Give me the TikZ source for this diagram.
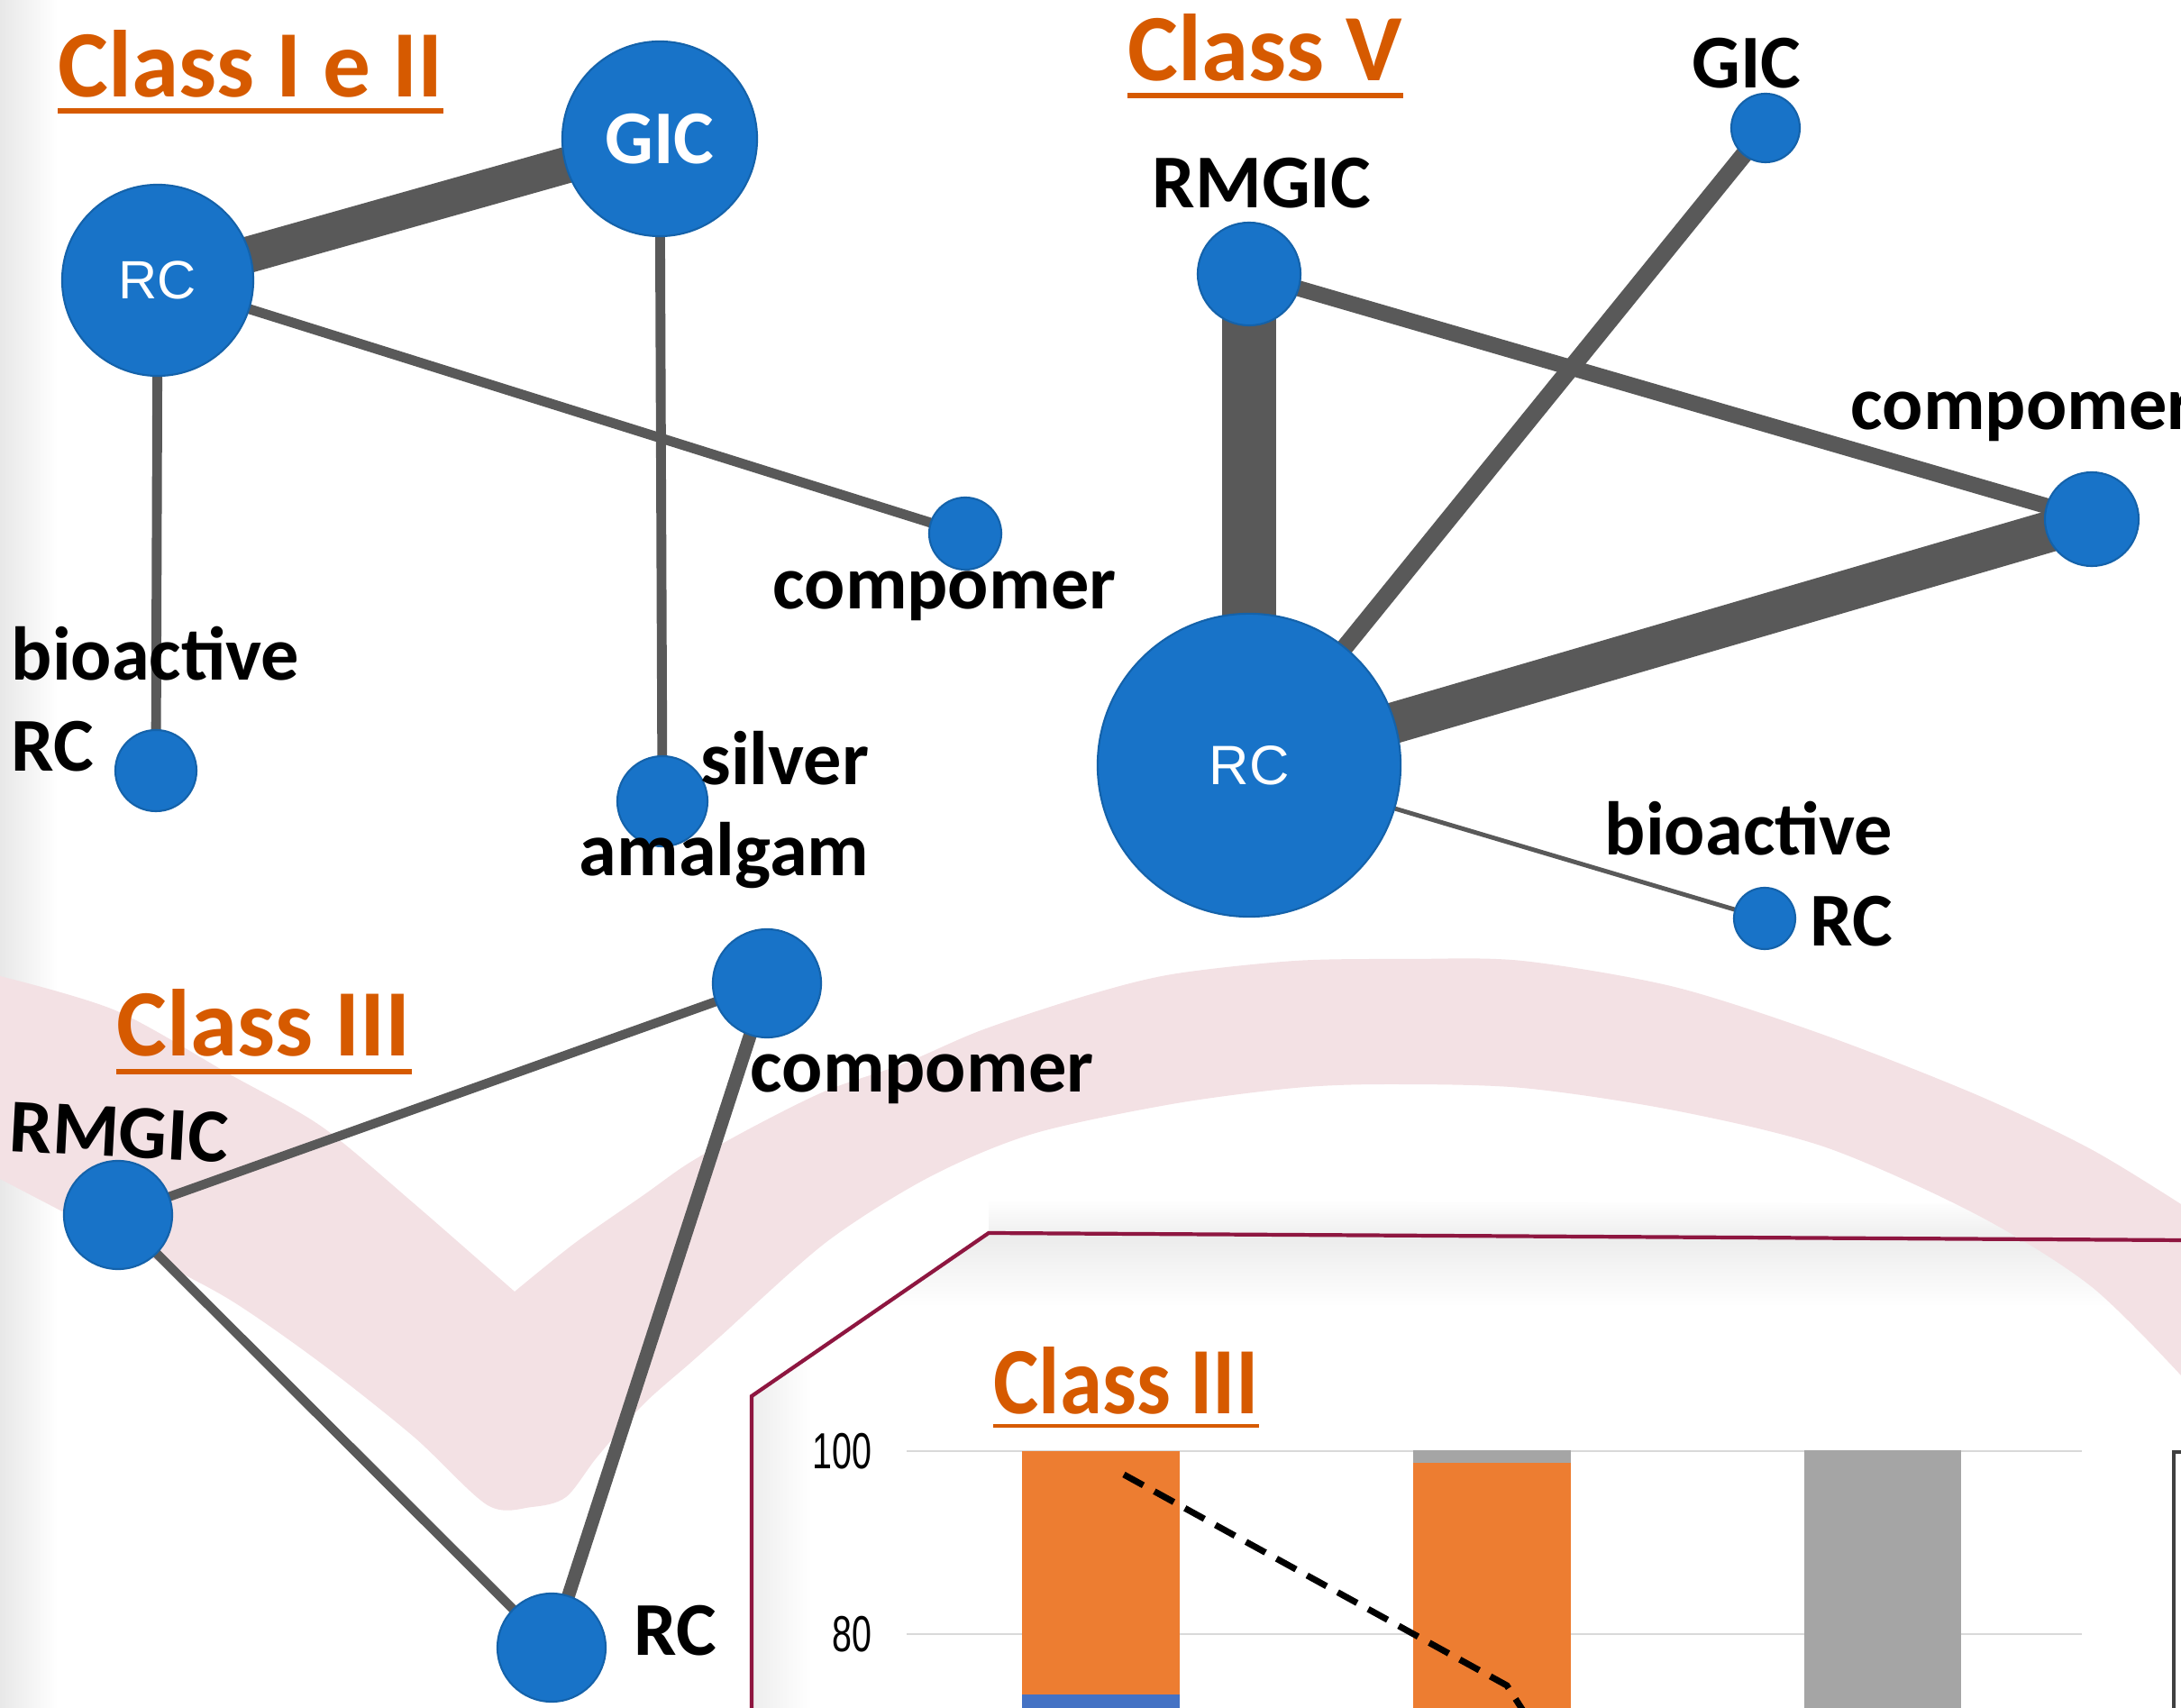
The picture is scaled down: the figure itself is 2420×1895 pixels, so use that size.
\documentclass[tikz,border=0pt]{standalone}
\usepackage{fontspec}
\setmainfont{Carlito}
\newfontfamily\arialfont{Liberation Sans}
\newfontfamily\narrowfont[FakeStretch=0.7]{Liberation Sans}
\newfontfamily\insetfont[FakeStretch=0.9]{Carlito}
\usepackage{tikz}
\pgfdeclarelayer{paper}
\pgfdeclarelayer{links}
\pgfsetlayers{paper,links,main}

\definecolor{nodeblue}{RGB}{24,115,200}
\definecolor{edgegray}{RGB}{89,89,89}
\definecolor{titleorange}{RGB}{214,90,0}
\definecolor{pinkband}{RGB}{243,225,228}
\definecolor{framered}{RGB}{142,22,64}
\definecolor{barorange}{RGB}{237,125,49}
\definecolor{barblue}{RGB}{68,114,196}
\definecolor{bargray}{RGB}{165,165,165}
\definecolor{gridgray}{RGB}{217,217,217}

\begin{document}
\begin{tikzpicture}[x=0.01cm, y=-0.01cm,
  drug/.style={circle, fill=nodeblue, draw=nodeblue!85!black, line width=0.6pt, inner sep=0pt, minimum size=#1},
  link/.style={draw=edgegray, line width=#1},
  classtitle/.style={font=\bfseries\fontsize{30}{30}\selectfont, text=titleorange, inner sep=0pt, anchor=base west},
  titleline/.style={draw=titleorange, line width=1.7pt},
  lbl/.style={font=\bfseries\fontsize{24}{29}\selectfont, inner sep=0pt},
  tick/.style={font=\narrowfont\fontsize{16}{16}\selectfont, inner sep=0pt, anchor=east}]
\useasboundingbox (0,0) rectangle (2420,1895);

\begin{pgfonlayer}{paper}
\shade[left color=black!9, right color=white] (0,0) rectangle (64,1895);
\fill[white] (834,1900) -- (834,1549) -- (1097,1368) -- (2425,1376) -- (2425,1900) -- cycle;
\shade[top color=white, bottom color=black!7] (1097,1330) -- (2425,1337) -- (2425,1376) -- (1097,1368) -- cycle;
\begin{scope}
\clip (834,1900) -- (834,1549) -- (1097,1368) -- (2425,1376) -- (2425,1900) -- cycle;
\shade[top color=black!8, bottom color=white] (834,1368) rectangle (2425,1450);
\shade[left color=black!7, right color=white] (834,1450) rectangle (900,1900);
\end{scope}
\fill[pinkband] plot[smooth] coordinates {(0,1083) (128,1121) (255,1192) (357,1250) (459,1335) (571,1433)}
  -- plot[smooth] coordinates {(571,1433) (638,1379) (714,1326) (765,1290) (836,1250) (917,1210) (1003,1180) (1089,1143) (1204,1105) (1300,1081) (1437,1066) (1563,1064) (1689,1066) (1858,1095) (2026,1149) (2194,1215) (2320,1275) (2420,1336)}
  -- (2420,1526)
  -- plot[smooth] coordinates {(2420,1526) (2320,1427) (2194,1348) (2026,1273) (1858,1232) (1689,1207) (1540,1203) (1437,1207) (1300,1225) (1146,1258) (1031,1306) (917,1378) (800,1482) (765,1513) (714,1558) (663,1616) (628,1661) (590,1672) (541,1670) (459,1594) (357,1513) (255,1442) (153,1388) (0,1308)}
  -- cycle;
\draw[framered, line width=1.2pt] (834,1900) -- (834,1549) -- (1097,1368) -- (2425,1376);
\end{pgfonlayer}

\node[classtitle] (t12) at (64,108) {Class I e II};
\draw[titleline] ([yshift=-0.15cm]t12.base west) -- ([yshift=-0.15cm]t12.base east);
\node[drug=2.12cm] (rc1) at (175,311) {\arialfont\fontsize{17}{17}\selectfont\color{white}RC};
\node[drug=2.16cm] (gic1) at (732,154) {\bfseries\fontsize{24}{24}\selectfont\color{white}GIC};
\node[drug=0.8cm] (comp1) at (1071,592) {};
\node[drug=0.9cm] (bio1) at (173,855) {};
\node[drug=1.0cm] (amal1) at (735,889) {};
\node[lbl, anchor=base west] (comp1lbl) at (857,676) {compomer};
\node[lbl, align=left, anchor=base west] (bio1lbl) at (12,856) {bioactive\\RC};
\node[lbl, align=right, anchor=base east] (amal1lbl) at (965,972) {silver\\amalgam};

\node[classtitle] (t5) at (1251,90) {Class V};
\draw[titleline] ([yshift=-0.16cm]t5.base west) -- ([yshift=-0.16cm]t5.base east);
\node[drug=3.36cm] (rc5) at (1386,849) {\arialfont\fontsize{17.5}{17.5}\selectfont\color{white}RC};
\node[drug=1.14cm] (rmgic5) at (1386,304) {};
\node[drug=0.76cm] (gic5) at (1959,142) {};
\node[drug=1.04cm] (comp5) at (2321,576) {};
\node[drug=0.68cm] (bio5) at (1958,1019) {};
\node[lbl, anchor=base] (gic5lbl) at (1938,98) {GIC};
\node[lbl, anchor=base] (rmgic5lbl) at (1400,231) {RMGIC};
\node[lbl, anchor=base west] (comp5lbl) at (2053,477) {compomer};
\node[lbl, align=right, anchor=base east] (bio5lbl) at (2101,1050) {bioactive\\RC};

\node[classtitle] (t3) at (129,1172) {Class III};
\draw[titleline] ([yshift=-0.17cm]t3.base west) -- ([yshift=-0.17cm]t3.base east);
\node[drug=1.2cm] (rmgic3) at (131,1348) {};
\node[drug=1.2cm] (comp3) at (851,1091) {};
\node[drug=1.2cm] (rc3) at (612,1828) {};
\node[lbl, anchor=base west, rotate=-3] (rmgic3lbl) at (9,1277) {RMGIC};
\node[lbl, anchor=base west] (comp3lbl) at (832,1212) {compomer};
\node[lbl, anchor=base west] (rc3lbl) at (703,1836) {RC};

\begin{pgfonlayer}{links}
\draw[link=11.5pt] (rc1.center) -- (gic1.center);
\draw[link=3.1pt] (rc1.center) -- (comp1.center);
\draw[link=3.1pt] (rc1.center) -- (bio1.center);
\draw[link=3.1pt] (gic1.center) -- (amal1.center);
\draw[link=17pt] (rmgic5.center) -- (rc5.center);
\draw[link=13pt] (rc5.center) -- (comp5.center);
\draw[link=5.5pt] (rc5.center) -- (gic5.center);
\draw[link=5pt] (rmgic5.center) -- (comp5.center);
\draw[link=1.4pt] (rc5.center) -- (bio5.center);
\draw[link=2.9pt] (rmgic3.center) -- (comp3.center);
\draw[link=2.9pt] (rmgic3.center) -- (rc3.center);
\draw[link=4.2pt] (comp3.center) -- (rc3.center);
\end{pgfonlayer}

\node[classtitle, font=\insetfont\bfseries\fontsize{30}{30}\selectfont] (tinset) at (1102,1569) {Class III};
\draw[titleline, line width=1.4pt] ([yshift=-0.13cm]tinset.base west) -- ([yshift=-0.13cm]tinset.base east);
\draw[gridgray, line width=0.85pt] (1006,1610) -- (2310,1610);
\draw[gridgray, line width=0.85pt] (1006,1813) -- (2310,1813);
\node[tick] (y100) at (968,1610) {100};
\node[tick] (y80) at (968,1813) {80};
\fill[barorange] (1134,1610) rectangle (1309,1880);
\fill[barblue] (1134,1880) rectangle (1309,1900);
\fill[bargray] (1568,1609) rectangle (1743,1623);
\fill[barorange] (1568,1623) rectangle (1743,1900);
\fill[bargray] (2002,1609) rectangle (2176,1900);
\draw[black, line width=2pt, dash pattern=on 7pt off 4pt] (1247,1636) -- (1672,1870) -- (1690,1898);
\draw[black!75, line width=0.9pt] (2412,1900) -- (2412,1611) -- (2430,1611);
\end{tikzpicture}
\end{document}
